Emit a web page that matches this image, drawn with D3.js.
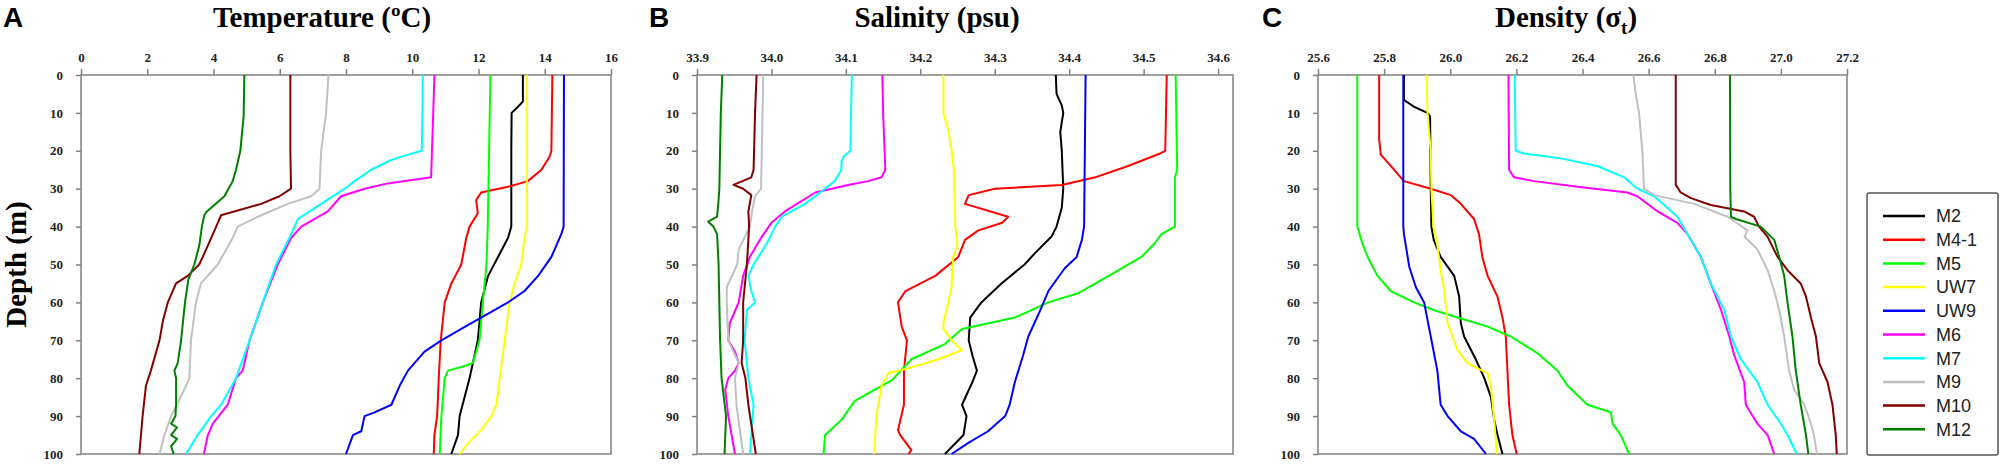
<!DOCTYPE html>
<html>
<head>
<meta charset="utf-8">
<script src="https://d3js.org/d3.v7.min.js"></script>
<style>
  body { margin: 0; background: #fff; }
  .tick text { font-family: "Liberation Serif", "Times New Roman", serif; font-weight: bold; font-size: 13px; fill: #222; }
  .tick line { stroke: #808080; stroke-width: 1.5; }
  .frame { fill: none; stroke: #808080; stroke-width: 1.5; }
  .title { font-family: "Liberation Serif", "Times New Roman", serif; font-weight: bold; font-size: 29px; }
  .letter { font-family: "Liberation Sans", Arial, sans-serif; font-weight: bold; font-size: 28px; }
  .profile { fill: none; stroke-width: 2; stroke-linejoin: round; }
  .legend text { font-family: "Liberation Sans", Arial, sans-serif; font-size: 18px; fill: #222; }
</style>
</head>
<body>
<script>
// stations, in legend order
var stations = ["M2", "M4-1", "M5", "UW7", "UW9", "M6", "M7", "M9", "M10", "M12"]
var colours  = ["#000000", "#ff0000", "#00ff00", "#ffff00", "#0000ff", "#ff00ff", "#00ffff", "#c0c0c0", "#800000", "#008000"]

var depthTicks = [0, 10, 20, 30, 40, 50, 60, 70, 80, 90, 100]
var tempTicks = [0, 2, 4, 6, 8, 10, 12, 14, 16]
var salTicks = [33.9, 34.0, 34.1, 34.2, 34.3, 34.4, 34.5, 34.6]
var densTicks = [25.6, 25.8, 26.0, 26.2, 26.4, 26.6, 26.8, 27.0, 27.2]

// [depth (m), value] pairs
// temperature (ºC)
var tempM2 = [[0,13.34],[7,13.34],[8.4,13.19],[10,13.0],[20,12.99],[40,12.99],[43,12.89],[48,12.59],[53,12.29],[60,12.08],[70,11.98],[76,11.83],[80,11.73],[90,11.43],[95,11.38],[100,11.18]]
var tempM41 = [[0,14.23],[20,14.2],[21.5,14.15],[25,13.9],[28,13.49],[29.5,12.89],[31,12.08],[33,11.93],[36.5,11.98],[40,11.73],[43,11.63],[50,11.48],[55,11.18],[60,10.98],[70,10.86],[80,10.8],[90,10.75],[95,10.67],[100,10.65]]
var tempM5 = [[0,12.36],[30,12.3],[40,12.28],[50,12.24],[60,12.13],[70,12.03],[76,11.83],[77,11.5],[78,11.08],[80,10.98],[90,10.88],[100,10.83]]
var tempUW7 = [[0,13.46],[40,13.46],[43,13.39],[50,13.29],[55,13.09],[60,12.94],[70,12.79],[80,12.64],[87,12.54],[90,12.39],[93.7,12.08],[97,11.7],[100,11.43]]
var tempUW9 = [[0,14.58],[40,14.57],[42,14.5],[48,14.2],[53,13.8],[57,13.39],[60,12.89],[64,12.08],[67,11.48],[70,10.88],[73,10.37],[78,9.87],[82,9.62],[87,9.37],[89,8.86],[90,8.56],[94,8.46],[95,8.21],[100,8.0]]
var tempM6 = [[0,10.67],[27,10.57],[28.6,9.26],[30,8.56],[32,7.85],[36,7.45],[40,6.65],[43,6.34],[50,5.94],[60,5.49],[70,5.09],[78,4.88],[80,4.68],[87,4.43],[92,3.98],[95,3.83],[100,3.71]]
var tempM7 = [[0,10.32],[20,10.29],[21,9.87],[22.4,9.37],[25,8.76],[28,8.26],[30,7.96],[34,7.25],[38,6.55],[43,6.29],[50,5.89],[60,5.49],[70,5.09],[80,4.68],[87,4.23],[90,3.93],[95,3.52],[100,3.17]]
var tempM9 = [[0,7.47],[10,7.4],[20,7.25],[30,7.2],[32,6.95],[34,6.24],[37,5.44],[40,4.73],[43,4.58],[50,4.13],[55,3.62],[60,3.47],[70,3.32],[80,3.27],[83,3.12],[90,2.72],[95,2.52],[100,2.37]]
var tempM10 = [[0,6.32],[20,6.32],[30,6.34],[32,5.99],[34,5.44],[37,4.23],[40,4.08],[45,3.83],[50,3.57],[53,3.22],[55,2.87],[60,2.62],[65,2.47],[70,2.37],[78,2.11],[82,1.96],[90,1.86],[100,1.76]]
var tempM12 = [[0,4.93],[11,4.91],[20,4.81],[25,4.68],[28,4.58],[32,4.33],[36,3.8],[37,3.72],[40,3.65],[45,3.57],[50,3.42],[54,3.24],[60,3.14],[70,3.02],[76,2.92],[78,2.82],[80,2.87],[87,2.87],[90,2.85],[92,2.72],[93,2.9],[95,2.72],[96,2.9],[98,2.72],[100,2.8]]

// salinity (psu)
var salM2 = [[0,34.382],[5,34.383],[8,34.39],[10,34.392],[15,34.388],[20,34.39],[30,34.392],[35,34.39],[40,34.383],[42.7,34.376],[47,34.354],[50,34.34],[55,34.309],[60,34.282],[64,34.267],[70,34.265],[74,34.27],[78,34.276],[81,34.27],[87,34.256],[90,34.262],[95,34.258],[100,34.233]]
var salM41 = [[0,34.531],[20,34.529],[20.7,34.522],[24,34.479],[27,34.435],[29,34.39],[30,34.3],[31.7,34.265],[34,34.26],[37.4,34.318],[39,34.31],[41,34.278],[43.5,34.26],[48,34.251],[53,34.22],[57,34.18],[60,34.17],[66.4,34.175],[70,34.182],[78,34.178],[87,34.178],[93.7,34.17],[95,34.173],[99,34.188],[100,34.184]]
var salM5 = [[0,34.543],[25,34.545],[27,34.542],[40,34.542],[42,34.524],[44.4,34.515],[48,34.497],[53,34.453],[57.6,34.412],[60,34.372],[64,34.327],[67,34.256],[71,34.233],[75,34.188],[80.5,34.162],[86,34.112],[91,34.094],[95,34.072],[100,34.07]]
var salUW7 = [[0,34.231],[10,34.231],[15,34.238],[20,34.242],[25,34.245],[40,34.247],[45,34.25],[48,34.244],[56,34.242],[65.5,34.231],[67,34.231],[70,34.242],[72.6,34.256],[75,34.224],[77.4,34.184],[78.7,34.157],[82,34.148],[90,34.141],[100,34.138]]
var salUW9 = [[0,34.422],[40,34.42],[43.5,34.417],[48,34.41],[51,34.394],[57,34.372],[63,34.359],[69,34.345],[74,34.338],[81,34.327],[87,34.32],[90,34.314],[94,34.291],[97,34.265],[100,34.242]]
var salM6 = [[0,34.149],[10,34.15],[25,34.153],[27,34.148],[28,34.13],[29,34.103],[31,34.059],[36,34.018],[39,34.0],[42.7,33.987],[48,33.971],[53,33.962],[60,33.956],[65.5,33.944],[70,33.942],[73,33.951],[76,33.956],[78,33.951],[80,33.942],[83,33.938],[90,33.942],[100,33.951]]
var salM7 = [[0,34.108],[20,34.106],[21.5,34.097],[23,34.094],[25,34.094],[28,34.085],[30,34.072],[34,34.045],[37.4,34.014],[40,34.005],[44.4,33.994],[50,33.976],[53,33.969],[57,33.973],[60,33.978],[62,33.967],[70,33.964],[80,33.969],[87,33.976],[100,33.971]]
var salM9 = [[0,33.989],[20,33.987],[30,33.986],[32,33.978],[36,33.974],[40,33.971],[46,33.956],[50,33.954],[56,33.94],[60,33.94],[70,33.942],[76,33.956],[80,33.951],[87,33.953],[100,33.962]]
var salM10 = [[0,33.98],[10,33.978],[25,33.976],[27,33.973],[29,33.949],[30,33.962],[31.7,33.973],[36,33.969],[40,33.97],[50,33.967],[60,33.962],[70,33.962],[76,33.96],[80,33.965],[87,33.969],[100,33.979]]
var salM12 = [[0,33.934],[10,33.932],[20,33.931],[30,33.93],[33,33.929],[37.4,33.927],[38.7,33.915],[40,33.922],[42,33.927],[50,33.929],[60,33.93],[70,33.931],[80,33.933],[90,33.939],[100,33.937]]

// density (sigma-t)
var densM2 = [[0,25.86],[6.6,25.86],[8.4,25.891],[10,25.931],[11,25.939],[30,25.941],[40,25.943],[43.5,25.95],[48,25.971],[53,26.012],[58.5,26.027],[65.5,26.032],[69,26.042],[75,26.077],[80,26.103],[85,26.123],[91,26.133],[95,26.143],[100,26.158]]
var densM41 = [[0,25.785],[17,25.785],[21,25.79],[24,25.82],[28,25.86],[30,25.941],[31.7,26.002],[34,26.032],[38,26.072],[42,26.087],[48,26.097],[53,26.113],[58.5,26.143],[64,26.158],[69,26.168],[78,26.173],[87,26.178],[95,26.188],[100,26.201]]
var densM5 = [[0,25.719],[40,25.719],[44.4,25.734],[48,25.75],[53,25.78],[57,25.82],[60,25.89],[62,25.95],[64,26.022],[66.4,26.113],[69,26.183],[73.4,26.264],[78,26.324],[82,26.355],[87,26.415],[89,26.486],[92,26.491],[95,26.516],[100,26.541]]
var densUW7 = [[0,25.929],[10,25.931],[20,25.941],[30,25.943],[40,25.949],[45,25.961],[51.5,25.971],[57,25.982],[65.5,25.992],[72.6,26.022],[76,26.052],[78.7,26.113],[82,26.123],[91,26.133],[100,26.141]]
var densUW9 = [[0,25.858],[40,25.858],[42,25.86],[50.6,25.876],[56,25.896],[60,25.921],[69,25.941],[78,25.961],[87,25.971],[90,25.992],[94,26.032],[96,26.072],[100,26.108]]
var densM6 = [[0,26.176],[25,26.178],[27,26.193],[28,26.254],[29.5,26.385],[31,26.536],[32,26.566],[36,26.627],[39,26.687],[42,26.718],[48,26.758],[55,26.788],[62,26.819],[69,26.844],[74,26.859],[81,26.889],[87,26.894],[92,26.929],[95,26.96],[100,26.98]]
var densM7 = [[0,26.195],[20,26.198],[20.7,26.224],[22,26.334],[24,26.445],[27,26.526],[30,26.566],[32,26.617],[37.4,26.687],[42,26.718],[48,26.758],[55,26.788],[62,26.829],[69,26.849],[75,26.879],[81,26.929],[87,26.96],[92,27.0],[95,27.02],[100,27.048]]
var densM9 = [[0,26.554],[5,26.561],[10,26.571],[20,26.581],[30,26.586],[31.7,26.617],[34,26.738],[37.4,26.839],[41,26.899],[42.7,26.89],[46,26.929],[51.5,26.96],[57,26.98],[62,26.995],[69,27.01],[78,27.025],[83,27.04],[87,27.071],[92,27.091],[95,27.1],[100,27.109]]
var densM10 = [[0,26.682],[29,26.682],[31,26.697],[32.5,26.728],[34.3,26.788],[36,26.889],[37.4,26.919],[40,26.934],[42.7,26.96],[48,26.99],[51.5,27.02],[55,27.06],[58.5,27.076],[64,27.091],[69,27.106],[76,27.116],[81,27.141],[87,27.156],[95,27.166],[100,27.169]]
var densM12 = [[0,26.846],[30,26.847],[37.4,26.849],[38,26.864],[40,26.939],[43.5,26.98],[48,26.995],[53,27.01],[60,27.02],[69,27.035],[78,27.045],[87,27.06],[95,27.076],[100,27.083]]

var tempData = [tempM2, tempM41, tempM5, tempUW7, tempUW9, tempM6, tempM7, tempM9, tempM10, tempM12]
var salData = [salM2, salM41, salM5, salUW7, salUW9, salM6, salM7, salM9, salM10, salM12]
var densData = [densM2, densM41, densM5, densUW7, densUW9, densM6, densM7, densM9, densM10, densM12]

var svg = d3.select("body").append("svg")
  .attr("width", 2003).attr("height", 470)

var plotTop = 75, plotBottom = 454
var yScale = d3.scaleLinear().domain([0, 100]).range([plotTop, plotBottom])

function drawPanel(opts) {
  var xScale = d3.scaleLinear().domain(opts.domain).range([opts.left, opts.right])
  var g = svg.append("g")

  g.append("rect").classed("frame", true)
    .attr("x", opts.left).attr("y", plotTop)
    .attr("width", opts.right - opts.left).attr("height", plotBottom - plotTop)

  var xAxis = g.append("g").attr("transform", "translate(0," + plotTop + ")")
    .call(d3.axisTop(xScale).tickValues(opts.ticks).tickFormat(opts.format).tickSize(6).tickSizeOuter(0).tickPadding(7))
  xAxis.select(".domain").remove()

  var yAxis = g.append("g").attr("transform", "translate(" + opts.left + ",0)")
    .call(d3.axisLeft(yScale).tickValues(depthTicks).tickSize(5).tickSizeOuter(0).tickPadding(13))
  yAxis.select(".domain").remove()

  var line = d3.line().x(d => xScale(d[1])).y(d => yScale(d[0]))
  g.selectAll("path.profile").data(opts.data).enter()
    .append("path").classed("profile", true)
    .attr("d", line)
    .style("stroke", (d, i) => colours[i])

  g.append("text").classed("letter", true).attr("x", opts.letterX).attr("y", 27).text(opts.letter)
  var t = g.append("text").classed("title", true).attr("x", opts.titleX).attr("y", 27)
    .attr("text-anchor", "middle")
  opts.title(t)
}

drawPanel({
  left: 81, right: 611, domain: [0, 16], ticks: tempTicks, format: d3.format("d"),
  data: tempData, letter: "A", letterX: 3, titleX: 322,
  title: t => t.text("Temperature (ºC)")
})

drawPanel({
  left: 697, right: 1233, domain: [33.9, 34.62], ticks: salTicks, format: d3.format(".1f"),
  data: salData, letter: "B", letterX: 649, titleX: 937,
  title: t => t.text("Salinity (psu)")
})

drawPanel({
  left: 1318, right: 1847, domain: [25.6, 27.2], ticks: densTicks, format: d3.format(".1f"),
  data: densData, letter: "C", letterX: 1262, titleX: 1566,
  title: t => {
    t.append("tspan").text("Density (σ")
    t.append("tspan").attr("font-size", "19px").attr("dy", 7).text("t")
    t.append("tspan").attr("dy", -7).text(")")
  }
})

svg.append("text").classed("title", true)
  .attr("transform", "translate(26," + ((plotTop + plotBottom) / 2) + ") rotate(-90)")
  .attr("text-anchor", "middle")
  .text("Depth (m)")

// legend
var legend = svg.append("g").classed("legend", true)
legend.append("rect")
  .attr("x", 1867).attr("y", 193).attr("width", 131).attr("height", 262).attr("rx", 2)
  .style("fill", "#fff").style("stroke", "#555").style("stroke-width", 1.5)

var items = legend.selectAll("g.item").data(stations).enter()
  .append("g").classed("item", true)
  .attr("transform", (d, i) => "translate(1883," + (216 + i * 23.7) + ")")
items.append("line").attr("x1", 0).attr("x2", 42)
  .style("stroke", (d, i) => colours[i]).style("stroke-width", 2.5)
items.append("text").attr("x", 53).attr("dy", "0.35em").text(d => d)
</script>
</body>
</html>
